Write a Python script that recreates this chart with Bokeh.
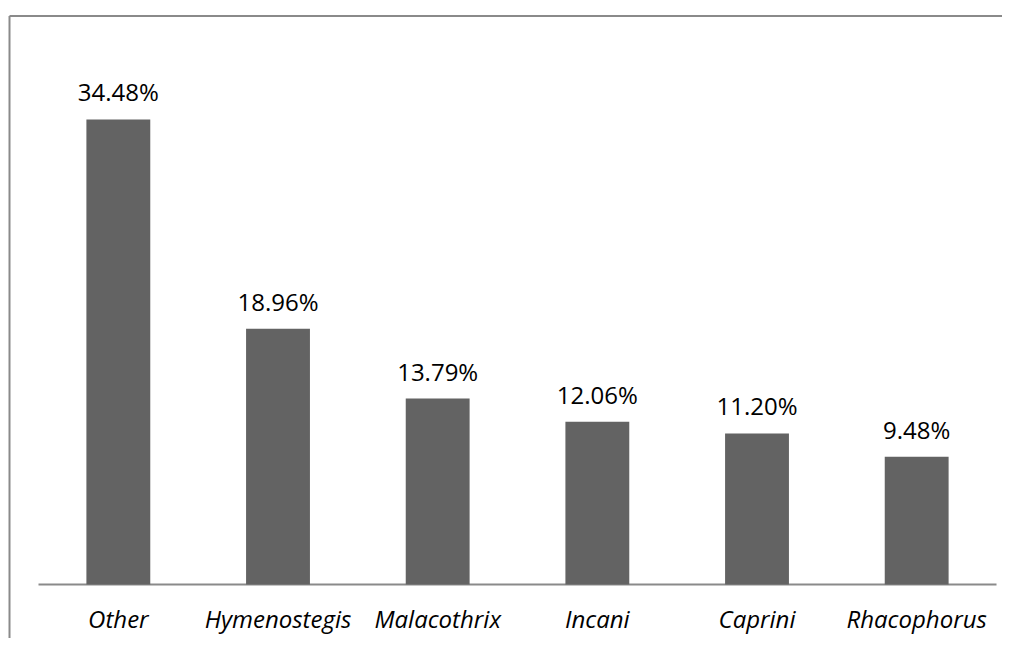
from bokeh.plotting import figure
from bokeh.models import ColumnDataSource, Range1d
from bokeh.core.properties import value
from bokeh.embed import file_html
from bokeh.resources import INLINE

categories = ["Other", "Hymenostegis", "Malacothrix", "Incani", "Caprini", "Rhacophorus"]
percentages = [34.48, 18.96, 13.79, 12.06, 11.20, 9.48]
labels = ["34.48%", "18.96%", "13.79%", "12.06%", "11.20%", "9.48%"]

FONT = "Open Sans"
BAR = "#636363"
GRID = "#8a8a8a"

pos = list(range(len(categories)))
src = ColumnDataSource(data=dict(x=pos, cat=categories, val=percentages, lab=labels))

# frame covers the whole canvas; px per category ~159.7, px per % ~13.49
p = figure(
    x_range=Range1d(-0.738, 5.5375),
    y_range=Range1d(-4.004, 43.30),
    width=1002,
    height=638,
    output_backend="svg",
    toolbar_location=None,
    min_border=0,
    x_axis_location=None,
    y_axis_location=None,
)
p.xgrid.grid_line_color = None
p.ygrid.grid_line_color = None
p.outline_line_color = None
p.background_fill_color = "white"
p.border_fill_color = "white"

# outer chart-area border (left and top edges)
p.segment(x0=[-0.6816], y0=[-4.1], x1=[-0.6816], y1=[42.155], line_color=GRID, line_width=2)
p.segment(x0=[-0.6816], y0=[42.155], x1=[5.6], y1=[42.155], line_color=GRID, line_width=2)

# baseline axis
p.segment(x0=[-0.5], y0=[0], x1=[len(categories) - 0.5], y1=[0], line_color=GRID, line_width=2)

p.vbar(x="x", top="val", width=0.4, bottom=0, source=src,
       fill_color=BAR, line_color=None)

p.text(x="x", y="val", text="lab", source=src,
       text_align="center", text_baseline="bottom", y_offset=-11,
       text_font=value(FONT), text_font_size="24px", text_color="#000000")

p.text(x="x", y=-3.745, text="cat", source=src,
       text_align="center", text_baseline="bottom",
       text_font=value(FONT), text_font_style="italic",
       text_font_size="24px", text_color="#000000")

open("out.html", "w").write(file_html(p, INLINE))
